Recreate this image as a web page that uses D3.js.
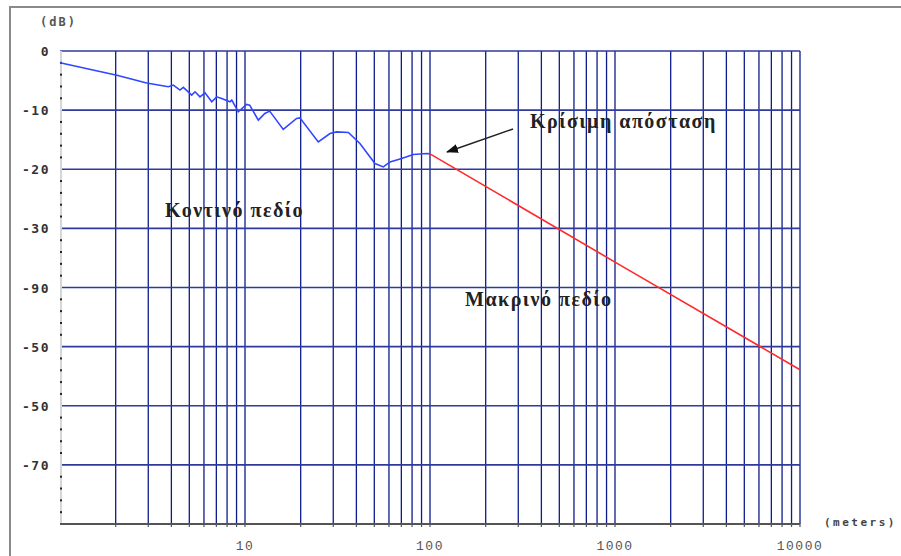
<!DOCTYPE html>
<html>
<head>
<meta charset="utf-8">
<script src="https://cdn.jsdelivr.net/npm/d3@7"></script>
<style>
  body { margin: 0; background: #fff; }
  svg { display: block; }
</style>
</head>
<body>
<svg id="chart" width="901" height="556"></svg>
<script>
// Near field / far field attenuation vs distance
const nearDist = [1, 2.03, 2.94, 3.85, 4.10, 4.45, 4.64, 5.15, 5.37, 5.71, 6.08, 6.61, 7.03, 7.48, 8.30, 8.48,
  9.20, 10.2, 10.6, 11.8, 12.8, 13.6, 16.1, 19.0, 19.8, 24.9, 28.8, 31.3, 36.2, 41.8, 50.4, 55.9, 60.8, 70.3, 81.2, 96.0, 100];
const nearDb = [-2.0, -4.1, -5.4, -6.05, -5.76, -6.61, -6.15, -7.46, -6.9, -7.75, -7.07, -8.59, -7.75, -8.02, -8.59, -8.31,
  -10.29, -9.03, -9.15, -11.69, -10.56, -10.17, -13.27, -11.41, -11.31, -15.37, -13.95, -13.68, -13.78, -15.64, -19.03, -19.61, -18.76, -18.19, -17.51, -17.34, -17.4];
const farDist = [100, 1000, 10000];
const farDb = [-17.4, -35.7, -53.9];

const yTickValues = [0, -10, -20, -30, -40, -50, -60, -70];
const yTickLabels = ['0', '-10', '-20', '-30', '-90', '-50', '-50', '-70'];
const xTickValues = [10, 100, 1000, 10000];
const xTickLabels = ['10', '100', '1000', '10000'];

const svg = d3.select('#chart');

const x = d3.scaleLog().domain([1, 10000]).range([60, 800]);
const y = d3.scaleLinear().domain([0, -80]).range([51, 524]);

// outer frame
svg.append('rect')
  .attr('x', 10).attr('y', 7)
  .attr('width', 900).attr('height', 560)
  .attr('fill', 'none')
  .attr('stroke', '#8a8a8a')
  .attr('stroke-width', 2);

// vertical log grid
const gridX = [];
for (let d = 1; d < 10000; d *= 10) {
  for (let k = 2; k <= 10; k++) gridX.push(d * k);
}

svg.append('g')
  .selectAll('line')
  .data(gridX)
  .join('line')
  .attr('x1', d => x(d)).attr('x2', d => x(d))
  .attr('y1', y(0)).attr('y2', y(-80))
  .attr('stroke', '#0d1c8c')
  .attr('stroke-width', 1.3);

// horizontal grid
svg.append('g')
  .selectAll('line')
  .data(yTickValues)
  .join('line')
  .attr('x1', x(1)).attr('x2', x(10000))
  .attr('y1', d => y(d)).attr('y2', d => y(d))
  .attr('stroke', '#2f3a9c')
  .attr('stroke-width', 1.6);

// left axis line + minor dots
svg.append('line')
  .attr('x1', 61).attr('x2', 61)
  .attr('y1', y(0)).attr('y2', y(-80))
  .attr('stroke', '#d6d6d6')
  .attr('stroke-width', 2);

const minor = d3.range(-2, -80, -2).filter(v => v % 10 !== 0);
svg.append('g')
  .selectAll('rect')
  .data(minor)
  .join('rect')
  .attr('x', 60).attr('y', d => y(d) - 1)
  .attr('width', 2).attr('height', 2)
  .attr('fill', '#222');

// bottom axis
svg.append('line')
  .attr('x1', x(1)).attr('x2', x(10000))
  .attr('y1', y(-80)).attr('y2', y(-80))
  .attr('stroke', '#555')
  .attr('stroke-width', 2);

svg.append('g')
  .selectAll('line')
  .data(gridX)
  .join('line')
  .attr('x1', d => x(d)).attr('x2', d => x(d))
  .attr('y1', y(-80)).attr('y2', y(-80) + 3)
  .attr('stroke', '#555')
  .attr('stroke-width', 1.2);

// y labels
svg.append('g')
  .selectAll('text')
  .data(yTickValues)
  .join('text')
  .attr('x', 50)
  .attr('y', d => y(d) + 5)
  .attr('text-anchor', 'end')
  .attr('font-family', 'DejaVu Sans Mono')
  .attr('font-weight', 'bold')
  .attr('font-size', '13px')
  .attr('letter-spacing', '1.5px')
  .attr('fill', '#333')
  .text((d, i) => yTickLabels[i]);

svg.append('text')
  .attr('x', 40).attr('y', 26)
  .attr('font-family', 'DejaVu Sans Mono')
  .attr('font-size', '12px')
  .attr('font-weight', 'bold')
  .attr('letter-spacing', '2px')
  .attr('fill', '#555')
  .text('(dB)');

// x labels
svg.append('g')
  .selectAll('text')
  .data(xTickValues)
  .join('text')
  .attr('x', d => x(d))
  .attr('y', 550)
  .attr('text-anchor', 'middle')
  .attr('font-family', 'Liberation Mono')
  .attr('font-size', '13px')
  .attr('letter-spacing', '1.5px')
  .attr('fill', '#555')
  .text((d, i) => xTickLabels[i]);

svg.append('text')
  .attr('x', 824).attr('y', 526)
  .attr('font-family', 'DejaVu Sans Mono')
  .attr('font-size', '11px')
  .attr('font-weight', 'bold')
  .attr('letter-spacing', '2.5px')
  .attr('fill', '#444')
  .text('(meters)');

// curves
const line = d3.line().x(d => x(d[0])).y(d => y(d[1]));

svg.append('path')
  .datum(nearDist.map((d, i) => [d, nearDb[i]]))
  .attr('d', line)
  .attr('fill', 'none')
  .attr('stroke', '#3046ff')
  .attr('stroke-width', 1.6);

svg.append('path')
  .datum(farDist.map((d, i) => [d, farDb[i]]))
  .attr('d', line)
  .attr('fill', 'none')
  .attr('stroke', '#ff2a2a')
  .attr('stroke-width', 1.6);

// annotations
const defs = svg.append('defs');
defs.append('marker')
  .attr('id', 'arrowHead')
  .attr('markerWidth', 12).attr('markerHeight', 9)
  .attr('refX', 11).attr('refY', 4.5)
  .attr('orient', 'auto')
  .attr('markerUnits', 'userSpaceOnUse')
  .append('polygon')
  .attr('points', '0 0, 12 4.5, 0 9')
  .attr('fill', '#111');

svg.append('line')
  .attr('x1', 513).attr('y1', 129)
  .attr('x2', 447).attr('y2', 152)
  .attr('stroke', '#222')
  .attr('stroke-width', 1.5)
  .attr('marker-end', 'url(#arrowHead)');

const labels = [
  { text: 'Κρίσιμη απόσταση', x: 530, y: 128 },
  { text: 'Κοντινό πεδίο', x: 165, y: 217 },
  { text: 'Μακρινό πεδίο', x: 465, y: 306 }
];

svg.append('g')
  .selectAll('text')
  .data(labels)
  .join('text')
  .attr('x', d => d.x).attr('y', d => d.y)
  .attr('font-family', 'Liberation Serif')
  .attr('font-weight', 'bold')
  .attr('font-size', '20px')
  .attr('letter-spacing', '1.5px')
  .attr('fill', '#222')
  .text(d => d.text);
</script>
</body>
</html>
